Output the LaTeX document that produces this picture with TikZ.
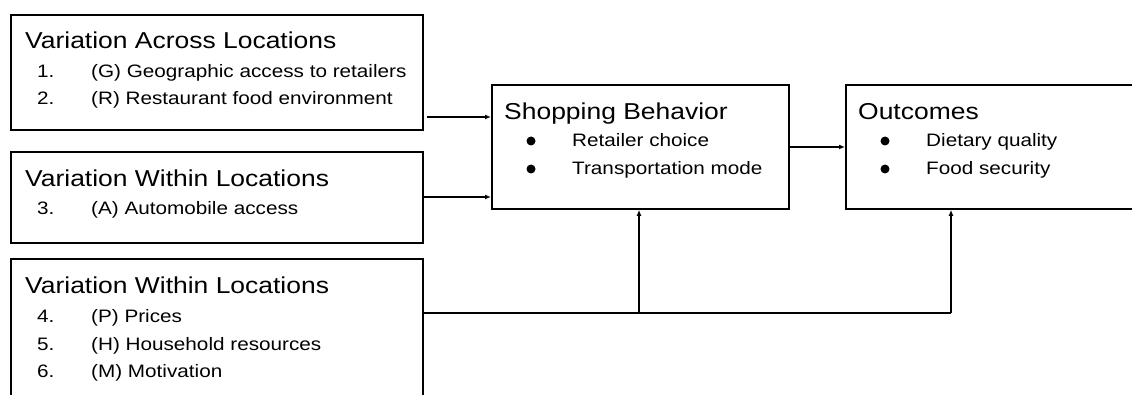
\documentclass[tikz,border=0pt]{standalone}
\usepackage{fontspec}
\setmainfont{Liberation Sans}
\newfontfamily\widesans[FakeStretch=1.15]{Liberation Sans}
\usetikzlibrary{arrows.meta}
\begin{document}
\begin{tikzpicture}[x=1pt,y=-1pt,
  boxline/.style={draw=black, line width=1.8pt},
  ttl/.style={anchor=base west, inner sep=0pt, font=\widesans\fontsize{23}{25}\selectfont},
  itm/.style={anchor=base west, inner sep=0pt, font=\widesans\fontsize{18}{20}\selectfont},
  bul/.style={circle, fill=black, inner sep=0pt, minimum size=9pt},
  arr/.style={line width=1.7pt, -{Latex[length=6pt,width=5pt]}},
  conn/.style={line width=1.7pt}]
\useasboundingbox (0,0) rectangle (1132,395);
\clip (0,0) rectangle (1132,395);
\fill[white] (0,0) rectangle (1132,395);
% boxes
\node[boxline, anchor=north west, minimum width=412pt, minimum height=115pt, inner sep=0pt] (b1) at (10,14) {};
\node[boxline, anchor=north west, minimum width=412pt, minimum height=91pt, inner sep=0pt] (b2) at (10,151) {};
\node[boxline, anchor=north west, minimum width=412pt, minimum height=160pt, inner sep=0pt] (b3) at (10,258) {};
\node[boxline, anchor=north west, minimum width=297pt, minimum height=124pt, inner sep=0pt] (sb) at (491,84) {};
\node[boxline, anchor=north west, minimum width=310pt, minimum height=124pt, inner sep=0pt] (out) at (845,84) {};
% box 1 text
\node[ttl] (t1) at (25,49) {Variation Across Locations};
\node[itm] (n1) at (37,78) {1.};
\node[itm] (i1) at (91,78) {(G) Geographic access to retailers};
\node[itm] (n2) at (37,105) {2.};
\node[itm] (i2) at (91,105) {(R) Restaurant food environment};
% box 2 text
\node[ttl] (t2) at (25,187) {Variation Within Locations};
\node[itm] (n3) at (37,215) {3.};
\node[itm] (i3) at (91,215) {(A) Automobile access};
% box 3 text
\node[ttl] (t3) at (25,294) {Variation Within Locations};
\node[itm] (n4) at (37,322) {4.};
\node[itm] (i4) at (91,322) {(P) Prices};
\node[itm] (n5) at (37,350) {5.};
\node[itm] (i5) at (91,350) {(H) Household resources};
\node[itm] (n6) at (37,377) {6.};
\node[itm] (i6) at (91,377) {(M) Motivation};
% shopping behavior text
\node[ttl] (t4) at (504,120) {Shopping Behavior};
\node[bul] (d1) at (531,141) {};
\node[itm] (s1) at (572,147) {Retailer choice};
\node[bul] (d2) at (531,169) {};
\node[itm] (s2) at (572,175) {Transportation mode};
% outcomes text
\node[ttl] (t5) at (858,120) {Outcomes};
\node[bul] (d3) at (885,141) {};
\node[itm] (o1) at (926,147) {Dietary quality};
\node[bul] (d4) at (885,169) {};
\node[itm] (o2) at (926,175) {Food security};
% connectors
\coordinate (j1) at (639,313);
\coordinate (j2) at (951,313);
\draw[arr] ([xshift=3pt]b1.east |- 0,117) -- (sb.west |- 0,117);
\draw[arr] (b2.east |- 0,197) -- (sb.west |- 0,197);
\draw[arr] (sb.east |- 0,147) -- (out.west |- 0,147);
\draw[conn] (b3.east |- j1) -- (j2);
\draw[arr] (j1) -- (j1 |- sb.south);
\draw[arr] (j2) -- (j2 |- out.south);
\end{tikzpicture}
\end{document}
